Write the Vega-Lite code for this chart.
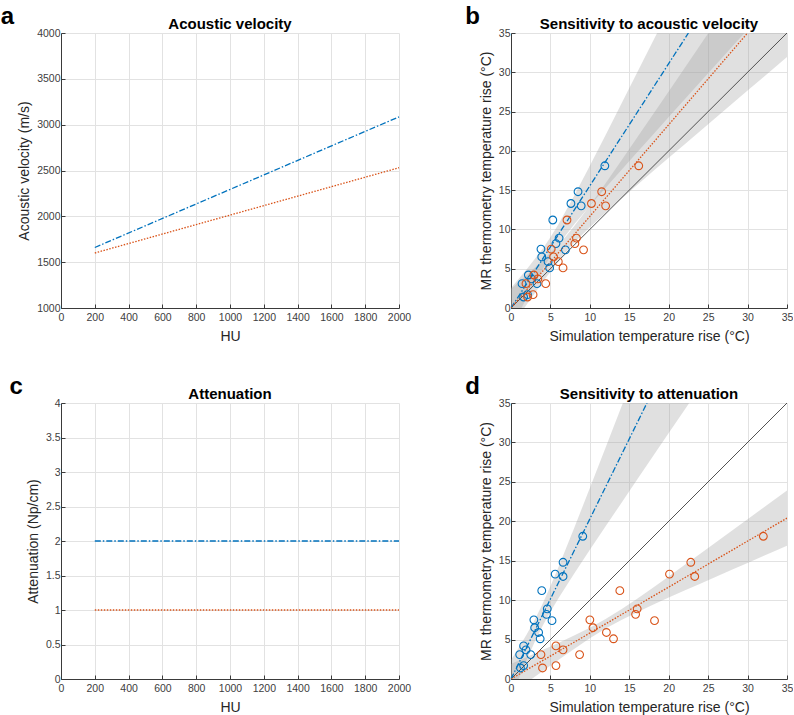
{
  "$schema": "https://vega.github.io/schema/vega-lite/v6.json",
  "background": "white",
  "padding": {"left": 0, "top": 5, "right": 0, "bottom": 0},
  "spacing": 31,
  "datasets": {
    "velA": [
      {"hu": 200, "v": 1660, "s": "blue"}, {"hu": 2000, "v": 3085, "s": "blue"},
      {"hu": 200, "v": 1600, "s": "orange"}, {"hu": 2000, "v": 2530, "s": "orange"}
    ],
    "attC": [
      {"hu": 200, "v": 2, "s": "blue"}, {"hu": 2000, "v": 2, "s": "blue"},
      {"hu": 200, "v": 1, "s": "orange"}, {"hu": 2000, "v": 1, "s": "orange"}
    ],
    "idn": [{"x": 0, "y": 0}, {"x": 35, "y": 35}],
    "fitB": [
      {"x": 0, "y": 0, "s": "blue"}, {"x": 22.5, "y": 35, "s": "blue"},
      {"x": 0, "y": 0, "s": "orange"}, {"x": 30, "y": 35, "s": "orange"}
    ],
    "fitD": [
      {"x": 0, "y": 0, "s": "blue"}, {"x": 17.24, "y": 35, "s": "blue"},
      {"x": 0, "y": 0, "s": "orange"}, {"x": 35, "y": 20.4, "s": "orange"}
    ],
    "bandB": [
      {"x": 0, "y": -2.55, "y2": 2.55, "s": "blue"},
      {"x": 2, "y": 1.29, "y2": 4.93, "s": "blue"},
      {"x": 4, "y": 4.92, "y2": 7.52, "s": "blue"},
      {"x": 5, "y": 6.56, "y2": 9.0, "s": "blue"},
      {"x": 6, "y": 8.04, "y2": 10.64, "s": "blue"},
      {"x": 8, "y": 10.63, "y2": 14.27, "s": "blue"},
      {"x": 10, "y": 13.01, "y2": 18.11, "s": "blue"},
      {"x": 12, "y": 15.31, "y2": 22.03, "s": "blue"},
      {"x": 14, "y": 17.57, "y2": 25.99, "s": "blue"},
      {"x": 16, "y": 19.83, "y2": 29.97, "s": "blue"},
      {"x": 18, "y": 22.06, "y2": 33.94, "s": "blue"},
      {"x": 20, "y": 24.3, "y2": 37.94, "s": "blue"},
      {"x": 22, "y": 26.53, "y2": 41.93, "s": "blue"},
      {"x": 24, "y": 28.76, "y2": 45.92, "s": "blue"},
      {"x": 26, "y": 30.99, "y2": 49.93, "s": "blue"},
      {"x": 28, "y": 33.21, "y2": 53.93, "s": "blue"},
      {"x": 30, "y": 35.43, "y2": 57.93, "s": "blue"},
      {"x": 31, "y": 36.55, "y2": 59.9, "s": "blue"},
      {"x": 0, "y": -2.43, "y2": 2.43, "s": "orange"},
      {"x": 2, "y": 0.46, "y2": 4.2, "s": "orange"},
      {"x": 4, "y": 3.29, "y2": 6.05, "s": "orange"},
      {"x": 6, "y": 5.95, "y2": 8.05, "s": "orange"},
      {"x": 7, "y": 7.17, "y2": 9.17, "s": "orange"},
      {"x": 8, "y": 8.29, "y2": 10.39, "s": "orange"},
      {"x": 10, "y": 10.29, "y2": 13.05, "s": "orange"},
      {"x": 12, "y": 12.13, "y2": 15.87, "s": "orange"},
      {"x": 14, "y": 13.91, "y2": 18.77, "s": "orange"},
      {"x": 16, "y": 15.65, "y2": 21.69, "s": "orange"},
      {"x": 18, "y": 17.39, "y2": 24.63, "s": "orange"},
      {"x": 20, "y": 19.11, "y2": 27.57, "s": "orange"},
      {"x": 22, "y": 20.82, "y2": 30.52, "s": "orange"},
      {"x": 24, "y": 22.54, "y2": 33.48, "s": "orange"},
      {"x": 26, "y": 24.25, "y2": 36.43, "s": "orange"},
      {"x": 28, "y": 25.96, "y2": 39.4, "s": "orange"},
      {"x": 30, "y": 27.67, "y2": 42.35, "s": "orange"},
      {"x": 32, "y": 29.37, "y2": 45.31, "s": "orange"},
      {"x": 35, "y": 31.94, "y2": 49.76, "s": "orange"}
    ],
    "bandD": [
      {"x": 0, "y": -2.4, "y2": 2.4, "s": "blue"},
      {"x": 1, "y": 0.07, "y2": 3.99, "s": "blue"},
      {"x": 2, "y": 2.45, "y2": 5.67, "s": "blue"},
      {"x": 3, "y": 4.7, "y2": 7.48, "s": "blue"},
      {"x": 4, "y": 6.73, "y2": 9.51, "s": "blue"},
      {"x": 5, "y": 8.54, "y2": 11.76, "s": "blue"},
      {"x": 6, "y": 10.22, "y2": 14.14, "s": "blue"},
      {"x": 8, "y": 13.36, "y2": 19.12, "s": "blue"},
      {"x": 10, "y": 16.38, "y2": 24.22, "s": "blue"},
      {"x": 12, "y": 19.37, "y2": 29.35, "s": "blue"},
      {"x": 14, "y": 22.33, "y2": 34.51, "s": "blue"},
      {"x": 16, "y": 25.29, "y2": 39.67, "s": "blue"},
      {"x": 18, "y": 28.24, "y2": 44.84, "s": "blue"},
      {"x": 20, "y": 31.18, "y2": 50.02, "s": "blue"},
      {"x": 22, "y": 34.12, "y2": 55.2, "s": "blue"},
      {"x": 23, "y": 35.59, "y2": 57.8, "s": "blue"},
      {"x": 0, "y": -1.9, "y2": 1.9, "s": "orange"},
      {"x": 2, "y": -0.45, "y2": 2.79, "s": "orange"},
      {"x": 4, "y": 0.99, "y2": 3.67, "s": "orange"},
      {"x": 6, "y": 2.42, "y2": 4.58, "s": "orange"},
      {"x": 8, "y": 3.81, "y2": 5.51, "s": "orange"},
      {"x": 10, "y": 5.16, "y2": 6.5, "s": "orange"},
      {"x": 12, "y": 6.4, "y2": 7.6, "s": "orange"},
      {"x": 14, "y": 7.49, "y2": 8.83, "s": "orange"},
      {"x": 16, "y": 8.48, "y2": 10.18, "s": "orange"},
      {"x": 18, "y": 9.41, "y2": 11.57, "s": "orange"},
      {"x": 20, "y": 10.32, "y2": 13.0, "s": "orange"},
      {"x": 22, "y": 11.21, "y2": 14.45, "s": "orange"},
      {"x": 24, "y": 12.09, "y2": 15.89, "s": "orange"},
      {"x": 26, "y": 12.98, "y2": 17.34, "s": "orange"},
      {"x": 28, "y": 13.85, "y2": 18.79, "s": "orange"},
      {"x": 30, "y": 14.72, "y2": 20.26, "s": "orange"},
      {"x": 32, "y": 15.6, "y2": 21.72, "s": "orange"},
      {"x": 35, "y": 16.91, "y2": 23.91, "s": "orange"}
    ],
    "ptsB": [
      {"x": 11.9, "y": 18.1, "s": "blue"}, {"x": 8.5, "y": 14.8, "s": "blue"},
      {"x": 7.6, "y": 13.3, "s": "blue"}, {"x": 8.9, "y": 13.0, "s": "blue"},
      {"x": 5.3, "y": 11.2, "s": "blue"}, {"x": 6.1, "y": 8.9, "s": "blue"},
      {"x": 5.7, "y": 8.2, "s": "blue"}, {"x": 3.8, "y": 7.5, "s": "blue"},
      {"x": 6.9, "y": 7.4, "s": "blue"}, {"x": 3.9, "y": 6.5, "s": "blue"},
      {"x": 4.7, "y": 5.9, "s": "blue"}, {"x": 4.9, "y": 5.1, "s": "blue"},
      {"x": 2.2, "y": 4.2, "s": "blue"}, {"x": 2.6, "y": 3.7, "s": "blue"},
      {"x": 1.4, "y": 3.1, "s": "blue"}, {"x": 3.3, "y": 3.1, "s": "blue"},
      {"x": 1.6, "y": 1.4, "s": "blue"}, {"x": 2.1, "y": 1.7, "s": "blue"},
      {"x": 16.2, "y": 18.1, "s": "orange"}, {"x": 11.5, "y": 14.8, "s": "orange"},
      {"x": 10.2, "y": 13.3, "s": "orange"}, {"x": 12.0, "y": 13.0, "s": "orange"},
      {"x": 7.1, "y": 11.2, "s": "orange"}, {"x": 8.3, "y": 8.9, "s": "orange"},
      {"x": 8.1, "y": 8.2, "s": "orange"}, {"x": 5.1, "y": 7.5, "s": "orange"},
      {"x": 9.2, "y": 7.4, "s": "orange"}, {"x": 5.4, "y": 6.5, "s": "orange"},
      {"x": 6.0, "y": 5.9, "s": "orange"}, {"x": 6.6, "y": 5.1, "s": "orange"},
      {"x": 2.9, "y": 4.2, "s": "orange"}, {"x": 3.4, "y": 3.7, "s": "orange"},
      {"x": 1.9, "y": 3.1, "s": "orange"}, {"x": 4.4, "y": 3.1, "s": "orange"},
      {"x": 2.1, "y": 1.4, "s": "orange"}, {"x": 2.8, "y": 1.7, "s": "orange"}
    ],
    "ptsD": [
      {"x": 9.1, "y": 18.1, "s": "blue"}, {"x": 6.6, "y": 14.8, "s": "blue"},
      {"x": 5.6, "y": 13.3, "s": "blue"}, {"x": 6.6, "y": 13.0, "s": "blue"},
      {"x": 3.9, "y": 11.2, "s": "blue"}, {"x": 4.6, "y": 8.9, "s": "blue"},
      {"x": 4.5, "y": 8.2, "s": "blue"}, {"x": 2.9, "y": 7.5, "s": "blue"},
      {"x": 5.2, "y": 7.4, "s": "blue"}, {"x": 3.0, "y": 6.5, "s": "blue"},
      {"x": 3.5, "y": 5.9, "s": "blue"}, {"x": 3.7, "y": 5.1, "s": "blue"},
      {"x": 1.6, "y": 4.2, "s": "blue"}, {"x": 1.9, "y": 3.7, "s": "blue"},
      {"x": 1.1, "y": 3.1, "s": "blue"}, {"x": 2.5, "y": 3.1, "s": "blue"},
      {"x": 1.2, "y": 1.4, "s": "blue"}, {"x": 1.6, "y": 1.7, "s": "blue"},
      {"x": 32.0, "y": 18.1, "s": "orange"}, {"x": 22.8, "y": 14.8, "s": "orange"},
      {"x": 20.1, "y": 13.3, "s": "orange"}, {"x": 23.3, "y": 13.0, "s": "orange"},
      {"x": 13.8, "y": 11.2, "s": "orange"}, {"x": 16.0, "y": 8.9, "s": "orange"},
      {"x": 15.8, "y": 8.2, "s": "orange"}, {"x": 10.0, "y": 7.5, "s": "orange"},
      {"x": 18.2, "y": 7.4, "s": "orange"}, {"x": 10.4, "y": 6.5, "s": "orange"},
      {"x": 12.1, "y": 5.9, "s": "orange"}, {"x": 13.0, "y": 5.1, "s": "orange"},
      {"x": 5.7, "y": 4.2, "s": "orange"}, {"x": 6.6, "y": 3.7, "s": "orange"},
      {"x": 3.8, "y": 3.1, "s": "orange"}, {"x": 8.7, "y": 3.1, "s": "orange"},
      {"x": 4.0, "y": 1.4, "s": "orange"}, {"x": 5.7, "y": 1.7, "s": "orange"}
    ]
  },
  "vconcat": [
    {
      "spacing": 54,
      "hconcat": [
        {
          "title": {"text": "a", "anchor": "start", "fontSize": 24, "fontWeight": "bold", "offset": -12, "dx": -17},
          "vconcat": [
            {
              "width": 338, "height": 275,
              "title": {"text": "Acoustic velocity", "offset": -4},
              "data": {"name": "velA"},
              "mark": {"type": "line", "strokeWidth": 1.3},
              "encoding": {
                "x": {"field": "hu", "type": "quantitative", "title": "HU", "scale": {"domain": [0, 2000], "nice": false}, "axis": {"values": [0, 200, 400, 600, 800, 1000, 1200, 1400, 1600, 1800, 2000], "format": "d"}},
                "y": {"field": "v", "type": "quantitative", "title": "Acoustic velocity (m/s)", "scale": {"domain": [1000, 4000], "nice": false, "zero": false}, "axis": {"values": [1000, 1500, 2000, 2500, 3000, 3500, 4000], "format": "d"}},
                "color": {"field": "s", "type": "nominal", "scale": {"domain": ["blue", "orange"], "range": ["#0072BD", "#D95319"]}, "legend": null},
                "strokeDash": {"field": "s", "type": "nominal", "scale": {"domain": ["blue", "orange"], "range": [[6, 2, 1.5, 2], [1.5, 1.5]]}, "legend": null}
              }
            }
          ]
        },
        {
          "title": {"text": "b", "anchor": "start", "fontSize": 24, "fontWeight": "bold", "offset": -12, "dx": -14},
          "vconcat": [
            {
              "width": 276, "height": 275,
              "title": {"text": "Sensitivity to acoustic velocity", "offset": -4},
              "encoding": {
                "x": {"field": "x", "type": "quantitative", "title": "Simulation temperature rise (°C)", "scale": {"domain": [0, 35], "nice": false}, "axis": {"values": [0, 5, 10, 15, 20, 25, 30, 35]}},
                "y": {"field": "y", "type": "quantitative", "title": "MR thermometry temperature rise (°C)", "scale": {"domain": [0, 35], "nice": false}, "axis": {"values": [0, 5, 10, 15, 20, 25, 30, 35]}}
              },
              "layer": [
                {
                  "data": {"name": "bandB"},
                  "mark": {"type": "area", "clip": true, "color": "#a0a0a0", "opacity": 0.33},
                  "encoding": {"y2": {"field": "y2"}, "detail": {"field": "s", "type": "nominal"}}
                },
                {
                  "data": {"name": "idn"},
                  "mark": {"type": "line", "clip": true, "color": "#404040", "strokeWidth": 0.9},
                  "encoding": {}
                },
                {
                  "data": {"name": "fitB"},
                  "mark": {"type": "line", "clip": true, "strokeWidth": 1.3},
                  "encoding": {
                    "color": {"field": "s", "type": "nominal", "scale": {"domain": ["blue", "orange"], "range": ["#0072BD", "#D95319"]}, "legend": null},
                    "strokeDash": {"field": "s", "type": "nominal", "scale": {"domain": ["blue", "orange"], "range": [[6, 2, 1.5, 2], [1.5, 1.5]]}, "legend": null}
                  }
                },
                {
                  "data": {"name": "ptsB"},
                  "mark": {"type": "point", "filled": false, "size": 60, "strokeWidth": 1.1, "opacity": 1},
                  "encoding": {
                    "color": {"field": "s", "type": "nominal", "scale": {"domain": ["blue", "orange"], "range": ["#0072BD", "#D95319"]}, "legend": null}
                  }
                }
              ]
            }
          ]
        }
      ]
    },
    {
      "spacing": 54,
      "hconcat": [
        {
          "title": {"text": "c", "anchor": "start", "fontSize": 24, "fontWeight": "bold", "offset": -12, "dx": -17},
          "vconcat": [
            {
              "width": 338, "height": 276,
              "title": {"text": "Attenuation", "offset": -4},
              "data": {"name": "attC"},
              "mark": {"type": "line", "strokeWidth": 1.3},
              "encoding": {
                "x": {"field": "hu", "type": "quantitative", "title": "HU", "scale": {"domain": [0, 2000], "nice": false}, "axis": {"values": [0, 200, 400, 600, 800, 1000, 1200, 1400, 1600, 1800, 2000], "format": "d"}},
                "y": {"field": "v", "type": "quantitative", "title": "Attenuation (Np/cm)", "scale": {"domain": [0, 4], "nice": false}, "axis": {"values": [0, 0.5, 1, 1.5, 2, 2.5, 3, 3.5, 4], "format": "~g"}},
                "color": {"field": "s", "type": "nominal", "scale": {"domain": ["blue", "orange"], "range": ["#0072BD", "#D95319"]}, "legend": null},
                "strokeDash": {"field": "s", "type": "nominal", "scale": {"domain": ["blue", "orange"], "range": [[6, 2, 1.5, 2], [1.5, 1.5]]}, "legend": null}
              }
            }
          ]
        },
        {
          "title": {"text": "d", "anchor": "start", "fontSize": 24, "fontWeight": "bold", "offset": -12, "dx": -14},
          "vconcat": [
            {
              "width": 276, "height": 276,
              "title": {"text": "Sensitivity to attenuation", "offset": -4},
              "encoding": {
                "x": {"field": "x", "type": "quantitative", "title": "Simulation temperature rise (°C)", "scale": {"domain": [0, 35], "nice": false}, "axis": {"values": [0, 5, 10, 15, 20, 25, 30, 35]}},
                "y": {"field": "y", "type": "quantitative", "title": "MR thermometry temperature rise (°C)", "scale": {"domain": [0, 35], "nice": false}, "axis": {"values": [0, 5, 10, 15, 20, 25, 30, 35]}}
              },
              "layer": [
                {
                  "data": {"name": "bandD"},
                  "mark": {"type": "area", "clip": true, "color": "#a0a0a0", "opacity": 0.33},
                  "encoding": {"y2": {"field": "y2"}, "detail": {"field": "s", "type": "nominal"}}
                },
                {
                  "data": {"name": "idn"},
                  "mark": {"type": "line", "clip": true, "color": "#404040", "strokeWidth": 0.9},
                  "encoding": {}
                },
                {
                  "data": {"name": "fitD"},
                  "mark": {"type": "line", "clip": true, "strokeWidth": 1.3},
                  "encoding": {
                    "color": {"field": "s", "type": "nominal", "scale": {"domain": ["blue", "orange"], "range": ["#0072BD", "#D95319"]}, "legend": null},
                    "strokeDash": {"field": "s", "type": "nominal", "scale": {"domain": ["blue", "orange"], "range": [[6, 2, 1.5, 2], [1.5, 1.5]]}, "legend": null}
                  }
                },
                {
                  "data": {"name": "ptsD"},
                  "mark": {"type": "point", "filled": false, "size": 60, "strokeWidth": 1.1, "opacity": 1},
                  "encoding": {
                    "color": {"field": "s", "type": "nominal", "scale": {"domain": ["blue", "orange"], "range": ["#0072BD", "#D95319"]}, "legend": null}
                  }
                }
              ]
            }
          ]
        }
      ]
    }
  ],
  "resolve": {"scale": {"x": "independent", "y": "independent"}},
  "config": {
    "view": {"stroke": null},
    "font": "Liberation Sans",
    "axis": {
      "grid": true, "gridColor": "#e2e2e2", "gridWidth": 1,
      "domainColor": "#3a3a3a", "domainWidth": 1,
      "tickColor": "#3a3a3a", "tickSize": -4, "labelOverlap": false, "labelFlush": false,
      "labelFont": "Liberation Sans", "labelFontSize": 10.5, "labelColor": "#404040",
      "titleFont": "Liberation Sans", "titleFontSize": 14, "titleFontWeight": "normal", "titleColor": "#262626"
    },
    "axisX": {"labelPadding": 8, "titlePadding": 7},
    "axisY": {"labelPadding": 5, "titlePadding": 5},
    "title": {"font": "Liberation Sans", "fontSize": 15, "fontWeight": "bold", "color": "#000000"}
  }
}
